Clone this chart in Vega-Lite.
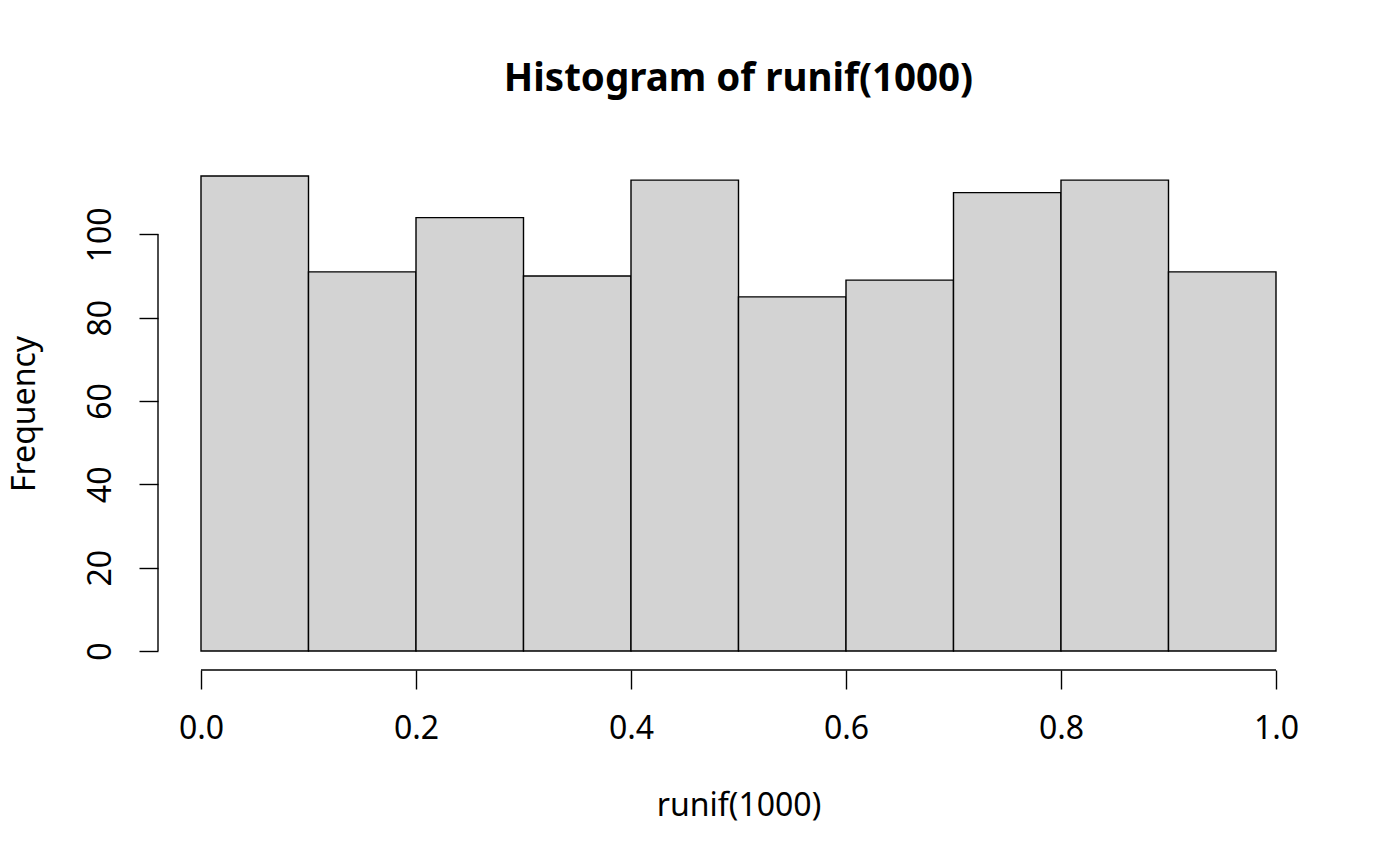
{
  "$schema": "https://vega.github.io/schema/vega-lite/v6.json",
  "width": 1161,
  "height": 513,
  "autosize": {"type": "none"},
  "padding": {"left": 158, "top": 157, "right": 81, "bottom": 196},
  "background": "white",
  "config": {"view": {"stroke": null}, "font": "Noto Sans"},
  "title": {
    "text": "Histogram of runif(1000)",
    "font": "Noto Sans",
    "fontSize": 38.5,
    "fontWeight": "bold",
    "color": "black",
    "anchor": "middle",
    "frame": "group",
    "baseline": "alphabetic",
    "offset": 28
  },
  "datasets": {
    "bins": [
      {"start": 0.0, "end": 0.1, "count": 114},
      {"start": 0.1, "end": 0.2, "count": 91},
      {"start": 0.2, "end": 0.3, "count": 104},
      {"start": 0.3, "end": 0.4, "count": 90},
      {"start": 0.4, "end": 0.5, "count": 113},
      {"start": 0.5, "end": 0.6, "count": 85},
      {"start": 0.6, "end": 0.7, "count": 89},
      {"start": 0.7, "end": 0.8, "count": 110},
      {"start": 0.8, "end": 0.9, "count": 113},
      {"start": 0.9, "end": 1.0, "count": 91}
    ],
    "one": [{"k": 1}]
  },
  "layer": [
    {
      "data": {"name": "bins"},
      "mark": {"type": "rect", "fill": "#D3D3D3", "stroke": "black", "strokeWidth": 1.4},
      "encoding": {
        "x": {
          "field": "start", "type": "quantitative",
          "scale": {"domain": [-0.04, 1.04], "nice": false, "zero": false},
          "axis": {
            "title": "runif(1000)",
            "values": [0, 0.2, 0.4, 0.6, 0.8, 1.0],
            "format": ".1f",
            "domain": false,
            "grid": false,
            "ticks": true,
            "tickSize": 19,
            "tickWidth": 1.4,
            "tickColor": "black",
            "labelFont": "Noto Sans",
            "labelFontSize": 32,
            "labelColor": "black",
            "labelBaseline": "alphabetic",
            "labelPadding": 49,
            "labelFlush": false,
            "labelOverlap": false,
            "titleFont": "Noto Sans",
            "titleFontSize": 32,
            "titleFontWeight": "normal",
            "titleColor": "black",
            "titleBaseline": "alphabetic",
            "titleY": 145
          }
        },
        "x2": {"field": "end"},
        "y": {
          "field": "count", "type": "quantitative",
          "scale": {"domain": [-4.56, 118.56], "nice": false, "zero": false},
          "axis": {
            "title": "Frequency",
            "values": [0, 20, 40, 60, 80, 100],
            "domain": false,
            "grid": false,
            "ticks": true,
            "tickSize": 19,
            "tickWidth": 1.4,
            "tickColor": "black",
            "labelFont": "Noto Sans",
            "labelFontSize": 32,
            "labelColor": "black",
            "labelAngle": -90,
            "labelAlign": "center",
            "labelBaseline": "alphabetic",
            "labelPadding": 29,
            "labelFlush": false,
            "labelOverlap": false,
            "titleFont": "Noto Sans",
            "titleFontSize": 32,
            "titleFontWeight": "normal",
            "titleColor": "black",
            "titleAngle": -90,
            "titleBaseline": "alphabetic",
            "titleX": -124
          }
        },
        "y2": {"datum": 0}
      }
    },
    {
      "data": {"name": "one"},
      "mark": {"type": "rule", "color": "black", "strokeWidth": 1.4},
      "encoding": {
        "x": {"datum": 0},
        "x2": {"datum": 1},
        "y": {"datum": -4.56}
      }
    },
    {
      "data": {"name": "one"},
      "mark": {"type": "rule", "color": "black", "strokeWidth": 1.4},
      "encoding": {
        "x": {"datum": -0.04},
        "y": {"datum": 0},
        "y2": {"datum": 100}
      }
    }
  ]
}
